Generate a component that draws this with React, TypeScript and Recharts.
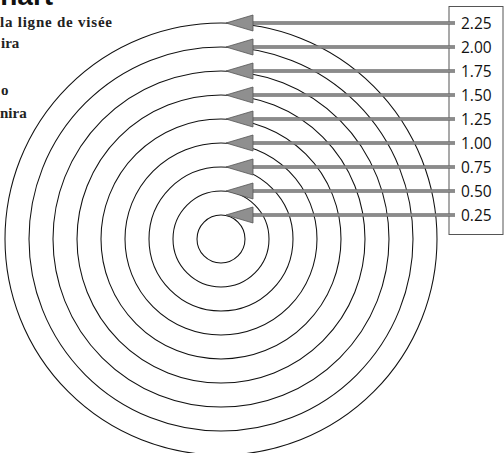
import React from "react";
import { RadarChart, Radar, PolarGrid, PolarAngleAxis, PolarRadiusAxis } from "recharts";

// ring values, from inner to outer
const levels = [0.25, 0.5, 0.75, 1.0, 1.25, 1.5, 1.75, 2.0, 2.25];
const tickLabels = ["0.25", "0.50", "0.75", "1.00", "1.25", "1.50", "1.75", "2.00", "2.25"];
const sideNotes = ["la ligne de visée", "ira", "o", "nira"];

const data = levels.map((v, i) => ({ ring: tickLabels[i], value: v }));

const BOX_X = 449;
const noteFont = "'Liberation Serif', serif";

function ArrowTick(props: any) {
  const { x, y, payload } = props;
  const idx = levels.indexOf(payload.value);
  if (idx < 0) return null;
  const tip = x + 5;
  const base = x + 32;
  return (
    <g>
      <line x1={base} y1={y} x2={BOX_X + 6} y2={y} stroke="#6e6e6e" strokeWidth={3.6} />
      <line x1={base} y1={y} x2={BOX_X + 6} y2={y} stroke="#a8a8a8" strokeWidth={1.2} />
      <polygon
        points={`${tip},${y} ${base},${y - 8} ${base},${y + 8}`}
        fill="#8f8f8f"
        stroke="#555"
        strokeWidth={0.8}
      />
      <text
        x={BOX_X + 12}
        y={y}
        dominantBaseline="central"
        fontFamily="'Open Sans', sans-serif"
        fontSize={15.5}
        fill="#111"
      >
        {tickLabels[idx]}
      </text>
    </g>
  );
}

export default function App() {
  return (
    <div style={{ position: "absolute", left: 0, top: 0, width: 504, height: 453 }}>
      <RadarChart
        width={504}
        height={453}
        data={data}
        cx={221}
        cy={239}
        innerRadius={0}
        outerRadius={216}
        margin={{ top: 0, right: 0, bottom: 0, left: 0 }}
      >
        <rect x={BOX_X} y={6.5} width={54} height={228} fill="#fff" stroke="#555" strokeWidth={1} />
        <PolarGrid gridType="circle" radialLines={false} stroke="#111" strokeWidth={1.05} />
        <PolarAngleAxis dataKey="ring" tick={false} axisLine={false} tickLine={false} />
        <PolarRadiusAxis
          type="number"
          angle={90}
          domain={[0, 2.25]}
          ticks={[0, ...levels]}
          tickCount={10}
          axisLine={false}
          tickLine={false}
          tick={ArrowTick}
        />
        <Radar dataKey="value" stroke="none" fill="none" dot={false} isAnimationActive={false} />
        <text x={-20} y={5} fontFamily="'Liberation Sans', Arial, sans-serif" fontWeight="bold" fontSize={28} fill="#111">
          Chart
        </text>
        <text x={0} y={27} fontFamily={noteFont} fontWeight="bold" fontSize={15} fill="#222" textLength={112} lengthAdjust="spacing">
          {sideNotes[0]}
        </text>
        <text x={1} y={48} fontFamily={noteFont} fontWeight="bold" fontSize={15} fill="#222">
          {sideNotes[1]}
        </text>
        <text x={1} y={95} fontFamily={noteFont} fontWeight="bold" fontSize={15} fill="#222">
          {sideNotes[2]}
        </text>
        <text x={0} y={118} fontFamily={noteFont} fontWeight="bold" fontSize={15} fill="#222">
          {sideNotes[3]}
        </text>
      </RadarChart>
    </div>
  );
}
